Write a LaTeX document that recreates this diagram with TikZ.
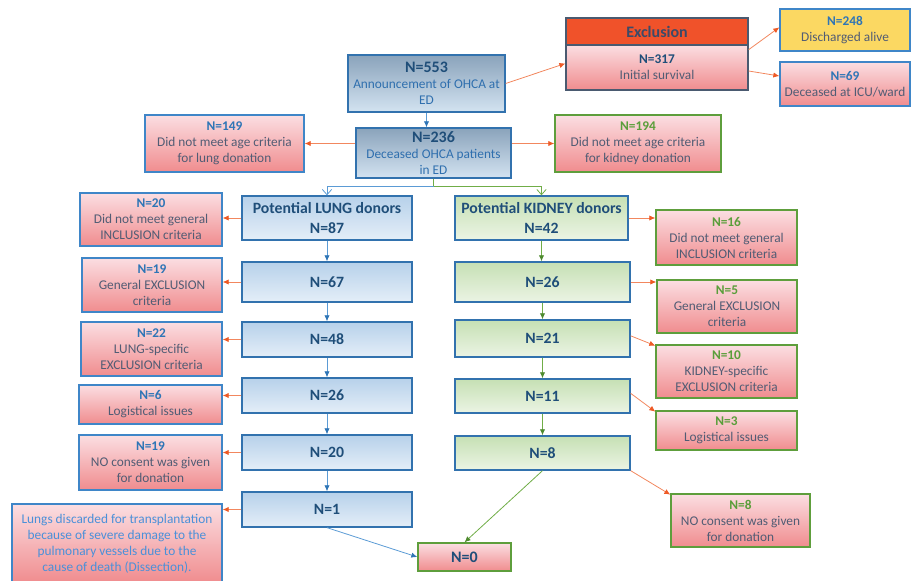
\documentclass[tikz,border=0pt]{standalone}
\usepackage{fontspec}
\setmainfont{Carlito}
\usetikzlibrary{arrows.meta,calc}
\definecolor{blueTop}{HTML}{B7D1EA}
\definecolor{blueBot}{HTML}{E4EEF8}
\definecolor{bdrBlue}{HTML}{3272AE}
\definecolor{greenTop}{HTML}{C6E0B4}
\definecolor{greenBot}{HTML}{EBF4E4}
\definecolor{pinkTop}{HTML}{FBDEE2}
\definecolor{pinkBot}{HTML}{F08C8E}
\definecolor{bdrLeft}{HTML}{3F86C8}
\definecolor{bdrRight}{HTML}{5E9E3C}
\definecolor{topTop}{HTML}{8AA3BB}
\definecolor{topBot}{HTML}{D3E3F1}
\definecolor{nDark}{HTML}{1F4E79}
\definecolor{nBlue}{HTML}{2E75B6}
\definecolor{nGreen}{HTML}{5A9E3A}
\definecolor{descGray}{HTML}{515C74}
\definecolor{descBlue}{HTML}{2F6FAE}
\definecolor{discBlue}{HTML}{4A90D9}
\definecolor{exclRed}{HTML}{F0522A}
\definecolor{exclText}{HTML}{3B4A68}
\definecolor{exclBdr}{HTML}{4A5A70}
\definecolor{yel}{HTML}{FBD862}
\definecolor{lineOr}{HTML}{F2875E}
\definecolor{headOr}{HTML}{EE5A26}
\definecolor{lineBl}{HTML}{5B9BD5}
\definecolor{headBl}{HTML}{2E75B6}
\definecolor{lineGr}{HTML}{70AD47}
\definecolor{headGr}{HTML}{4E8A2E}
\tikzset{
  base/.style={draw, line width=1pt, inner sep=0pt, align=center,
    font=\fontsize{10}{12}\selectfont, text=descGray},
  bluebox/.style={base, draw=bdrBlue, top color=blueTop, bottom color=blueBot,
    text=nDark, font=\fontsize{11.8}{15}\selectfont\bfseries},
  greenbox/.style={base, draw=bdrBlue, top color=greenTop, bottom color=greenBot,
    text=nDark, font=\fontsize{11.8}{15}\selectfont\bfseries},
  topbox/.style={base, draw=bdrBlue, top color=topTop, bottom color=topBot, text=descBlue},
  pinkL/.style={base, draw=bdrLeft, top color=pinkTop, bottom color=pinkBot},
  pinkR/.style={base, draw=bdrRight, top color=pinkTop, bottom color=pinkBot},
  pinkD/.style={base, draw=exclBdr, top color=pinkTop, bottom color=pinkBot},
  exclbox/.style={base, draw=exclBdr, fill=exclRed, text=exclText,
    font=\fontsize{12}{13}\selectfont\bfseries},
  yelbox/.style={base, draw=bdrLeft, fill=yel},
  oarr/.style={draw=lineOr, line width=0.6pt, -{Latex[length=4.5pt,width=4pt,color=headOr]}},
  barr/.style={draw=lineBl, line width=0.6pt, -{Latex[length=4.5pt,width=4pt,color=headBl]}},
  garr/.style={draw=lineGr, line width=0.6pt, -{Latex[length=4.5pt,width=4pt,color=headGr]}},
  bopen/.style={draw=lineBl, line width=0.6pt, -{Straight Barb[length=4pt,width=7pt]}},
  gopen/.style={draw=lineGr, line width=0.6pt, -{Straight Barb[length=4pt,width=7pt]}},
}
\newcommand\Bx[7]{\node[#2, minimum width={(#5-#3)*0.75pt}, minimum height={(#6-#4)*0.75pt}] (#1) at ({(#3+#5)/2},{(#4+#6)/2}) {#7};}
\newcommand\NumB[1]{{\bfseries\color{nBlue}#1}}
\newcommand\NumG[1]{{\bfseries\color{nGreen}#1}}
\newcommand\NumD[1]{{\bfseries\color{nDark}\fontsize{12}{13}\selectfont #1}}
\begin{document}
\begin{tikzpicture}[x=0.75pt,y=-0.75pt]
\useasboundingbox (0,0) rectangle (911,581);
% top section
\Bx{n553}{topbox}{348}{55}{505}{112}{\NumD{N=553}\\Announcement of OHCA at\\ED}
\Bx{excl}{exclbox}{566}{18}{748}{45}{Exclusion}
\Bx{surv}{pinkD}{566}{45}{748}{90}{{\bfseries\color{nDark}N=317}\\Initial survival}
\Bx{n248}{yelbox}{780}{9}{910}{51}{\NumB{N=248}\\Discharged alive}
\Bx{n69}{pinkL}{780}{62}{910}{106}{\NumB{N=69}\\Deceased at ICU/ward}
\Bx{n236}{topbox}{356}{128}{511}{178}{\NumD{N=236}\\Deceased OHCA patients\\in ED}
\Bx{n149}{pinkL}{145}{115}{304}{172}{\NumB{N=149}\\Did not meet age criteria\\for lung donation}
\Bx{n194}{pinkR}{555}{115}{721}{172}{\NumG{N=194}\\Did not meet age criteria\\for kidney donation}
% lung column
\Bx{lung}{bluebox}{242}{196}{412}{240}{Potential LUNG donors\\N=87}
\Bx{l67}{bluebox}{242}{262}{412}{302}{N=67}
\Bx{l48}{bluebox}{242}{322}{412}{357}{N=48}
\Bx{l26}{bluebox}{242}{378}{412}{413}{N=26}
\Bx{l20b}{bluebox}{242}{435}{412}{470}{N=20}
\Bx{l1}{bluebox}{242}{492}{412}{527}{N=1}
\Bx{l20}{pinkL}{80}{193}{222}{246}{\NumB{N=20}\\Did not meet general\\INCLUSION criteria}
\Bx{l19}{pinkL}{82}{258}{222}{312}{\NumB{N=19}\\General EXCLUSION\\criteria}
\Bx{l22}{pinkL}{81}{322}{222}{376}{\NumB{N=22}\\LUNG-specific\\EXCLUSION criteria}
\Bx{l6}{pinkL}{79}{385}{222}{424}{\NumB{N=6}\\Logistical issues}
\Bx{l19b}{pinkL}{79}{435}{222}{490}{\NumB{N=19}\\NO consent was given\\for donation}
\Bx{disc}{pinkL}{12}{504}{222}{583}{\color{discBlue}Lungs discarded for transplantation\\\color{discBlue}because of severe damage to the\\\color{discBlue}pulmonary vessels due to the\\\color{discBlue}cause of death (Dissection).}
% kidney column
\Bx{kid}{greenbox}{455}{196}{628}{240}{Potential KIDNEY donors\\N=42}
\Bx{k26}{greenbox}{455}{262}{630}{302}{N=26}
\Bx{k21}{greenbox}{455}{320}{630}{357}{N=21}
\Bx{k11}{greenbox}{455}{379}{630}{413}{N=11}
\Bx{k8}{greenbox}{455}{436}{630}{470}{N=8}
\Bx{k16}{pinkR}{656}{210}{797}{265}{\NumG{N=16}\\Did not meet general\\INCLUSION criteria}
\Bx{k5}{pinkR}{657}{280}{797}{333}{\NumG{N=5}\\General EXCLUSION\\criteria}
\Bx{k10}{pinkR}{656}{345}{797}{398}{\NumG{N=10}\\KIDNEY-specific\\EXCLUSION criteria}
\Bx{k3}{pinkR}{656}{411}{797}{450}{\NumG{N=3}\\Logistical issues}
\Bx{k8b}{pinkR}{671}{494}{810}{547}{\NumG{N=8}\\NO consent was given\\for donation}
\Bx{n0}{pinkR}{418}{543}{511}{571}{\NumD{N=0}}
% top connectors
\draw[oarr] (n553.east) -- ([yshift=3pt]surv.west);
\draw[oarr] ([yshift=-4pt]surv.north east) -- ([yshift=2pt]n248.west);
\draw[oarr] ([yshift=-20pt]surv.north east) -- ([yshift=6pt]n69.west);
\draw[barr] (n553.south) -- (n553.south |- n236.north);
\draw[oarr] (n149.east -| n236.west) -- (n149.east);
\draw[oarr] (n194.west -| n236.east) -- (n194.west);
\coordinate (sp) at ($(n236.south)+(0,8)$);
\draw[draw=lineGr, line width=0.6pt] (n236.south) -- (sp);
\draw[bopen] (sp) -| (lung.north);
\draw[gopen] (sp) -| (kid.north);
% lung verticals
\draw[barr] (lung.south) -- (l67.north);
\draw[barr] (l67.south) -- (l48.north);
\draw[barr] (l48.south) -- (l26.north);
\draw[barr] (l26.south) -- (l20b.north);
\draw[barr] (l20b.south) -- (l1.north);
\draw[barr] (l1.south) -- (n0.west);
% lung exclusions
\draw[oarr] (lung.west) -- (lung.west -| l20.east);
\draw[oarr] (l67.west) -- (l67.west -| l19.east);
\draw[oarr] (l48.west) -- (l48.west -| l22.east);
\draw[oarr] (l26.west) -- (l26.west -| l6.east);
\draw[oarr] (l20b.west) -- (l20b.west -| l19b.east);
\draw[oarr] (l1.west) -- (l1.west -| disc.east);
% kidney verticals
\draw[garr] (kid.south) -- (kid.south |- k26.north);
\draw[garr] (k26.south) -- (k21.north);
\draw[garr] (k21.south) -- (k11.north);
\draw[garr] (k11.south) -- (k8.north);
\draw[garr] (k8.south) -- (n0.north);
% kidney exclusions
\draw[oarr] (kid.east) -- (kid.east -| k16.west);
\draw[oarr] (k26.east) -- (k26.east -| k5.west);
\draw[oarr] ([yshift=2pt]k21.east) -- ([yshift=-1pt]k10.north west);
\draw[oarr] ([yshift=2pt]k11.east) -- ([yshift=-1pt]k3.north west);
\draw[oarr] (k8.south east) -- ([yshift=-1pt]k8b.north west);
\end{tikzpicture}
\end{document}
